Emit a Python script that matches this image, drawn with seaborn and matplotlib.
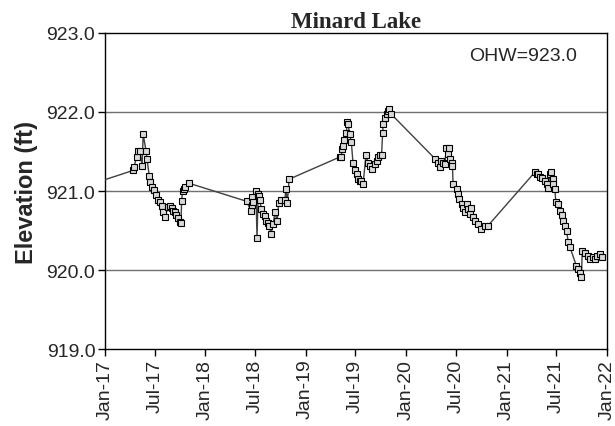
import pandas as pd
import matplotlib
matplotlib.use("Agg")
import matplotlib.pyplot as plt
import matplotlib.dates as mdates
import seaborn as sns

# lake level readings
dates = [
    "2016-11-15",
    "2017-04-13", "2017-04-17", "2017-04-26", "2017-05-02", "2017-05-08", "2017-05-16",
    "2017-05-20", "2017-05-30", "2017-06-03", "2017-06-11", "2017-06-15", "2017-06-20",
    "2017-06-28", "2017-07-06", "2017-07-13", "2017-07-20", "2017-07-26", "2017-08-01",
    "2017-08-07", "2017-08-19", "2017-08-25", "2017-08-31", "2017-09-06", "2017-09-12",
    "2017-09-18", "2017-09-24", "2017-09-30", "2017-10-04", "2017-10-07", "2017-10-10",
    "2017-10-15", "2017-10-20", "2017-11-01",
    "2018-05-31", "2018-06-16", "2018-06-18", "2018-06-21", "2018-06-24", "2018-07-04",
    "2018-07-08", "2018-07-12", "2018-07-16", "2018-07-18", "2018-07-24", "2018-07-30",
    "2018-08-05", "2018-08-11", "2018-08-17", "2018-08-21", "2018-08-28", "2018-09-05",
    "2018-09-11", "2018-09-19", "2018-09-25", "2018-10-05", "2018-10-17", "2018-10-21",
    "2018-10-26", "2018-11-02",
    "2019-05-05", "2019-05-10", "2019-05-14", "2019-05-18", "2019-05-21", "2019-05-29",
    "2019-06-01", "2019-06-04", "2019-06-10", "2019-06-16", "2019-06-22", "2019-06-28",
    "2019-07-05", "2019-07-10", "2019-07-17", "2019-07-23", "2019-07-29", "2019-08-08",
    "2019-08-16", "2019-08-22", "2019-09-01", "2019-09-10", "2019-09-16", "2019-09-22",
    "2019-09-28", "2019-10-04", "2019-10-08", "2019-10-10", "2019-10-16", "2019-10-22",
    "2019-10-28", "2019-11-01", "2019-11-09",
    "2020-04-15", "2020-04-27", "2020-05-03", "2020-05-09", "2020-05-15", "2020-05-21",
    "2020-05-27", "2020-06-02", "2020-06-06", "2020-06-08", "2020-06-15", "2020-06-18",
    "2020-06-20", "2020-07-03", "2020-07-09", "2020-07-12", "2020-07-21", "2020-07-27",
    "2020-08-02", "2020-08-08", "2020-08-14", "2020-08-20", "2020-08-26", "2020-09-01",
    "2020-09-07", "2020-09-19", "2020-10-01", "2020-10-13", "2020-10-25",
    "2021-04-14", "2021-04-20", "2021-04-26", "2021-05-02", "2021-05-08", "2021-05-20",
    "2021-05-26", "2021-06-01", "2021-06-07", "2021-06-13", "2021-06-17", "2021-06-19",
    "2021-06-25", "2021-06-29", "2021-07-07", "2021-07-13", "2021-07-20", "2021-07-25",
    "2021-08-01", "2021-08-07", "2021-08-13", "2021-08-19", "2021-09-12", "2021-09-17",
    "2021-09-24", "2021-09-30", "2021-10-03", "2021-10-12", "2021-10-24", "2021-10-31",
    "2021-11-12", "2021-11-18", "2021-11-24", "2021-12-06", "2021-12-12",
]
elev = [
    921.09,
    921.26, 921.31, 921.43, 921.51, 921.50, 921.32,
    921.72, 921.51, 921.40, 921.19, 921.12, 921.05,
    921.01, 920.95, 920.89, 920.86, 920.81, 920.74,
    920.67, 920.80, 920.81, 920.79, 920.75, 920.73,
    920.69, 920.66, 920.61, 920.59, 920.87, 921.00,
    921.02, 921.05, 921.10,
    920.87, 920.75, 920.82, 920.92, 920.86, 921.00,
    920.40, 920.96, 920.94, 920.88, 920.77, 920.71,
    920.68, 920.62, 920.60, 920.56, 920.46, 920.58,
    920.73, 920.62, 920.85, 920.89, 920.88, 921.03,
    920.85, 921.15,
    921.43, 921.43, 921.53, 921.57, 921.64, 921.74,
    921.87, 921.85, 921.72, 921.62, 921.36, 921.26,
    921.22, 921.15, 921.13, 921.13, 921.09, 921.45,
    921.36, 921.32, 921.28, 921.34, 921.38, 921.43,
    921.45, 921.46, 921.74, 921.85, 921.93, 921.97,
    922.01, 922.04, 921.97,
    921.41, 921.36, 921.30, 921.38, 921.36, 921.34,
    921.55, 921.47, 921.55, 921.41, 921.36, 921.32,
    921.09, 921.03, 920.96, 920.90, 920.84, 920.79,
    920.73, 920.84, 920.77, 920.71, 920.79, 920.67,
    920.62, 920.58, 920.52, 920.56, 920.56,
    921.24, 921.22, 921.22, 921.18, 921.17, 921.13,
    921.09, 921.04, 921.22, 921.24, 921.15, 921.09,
    921.03, 920.86, 920.84, 920.75, 920.69, 920.62,
    920.56, 920.50, 920.35, 920.29, 920.05, 920.01,
    919.96, 919.91, 920.24, 920.22, 920.18, 920.14,
    920.16, 920.14, 920.18, 920.20, 920.16,
]

y_ticks = [919.0, 920.0, 921.0, 922.0, 923.0]
ohw = 923.0

df = pd.DataFrame({"Date": pd.to_datetime(dates), "Elevation": elev})

sns.set_style("white")
plt.rcParams['font.family'] = ['Liberation Sans', 'DejaVu Sans']

fig = plt.figure(figsize=(6.15, 4.27), dpi=100)
ax = fig.add_axes([0.1707, 0.1803, 0.8163, 0.7401])

for yv in y_ticks[1:-1]:
    ax.axhline(yv, color='#707070', linewidth=1.0, zorder=1)

sns.lineplot(data=df, x="Date", y="Elevation", ax=ax, color='#404040', linewidth=1.0,
             marker='s', markersize=4.3, markerfacecolor='#d8d8d8',
             markeredgecolor='black', markeredgewidth=0.8, zorder=3)

ax.set_xlim(pd.Timestamp("2017-01-01"), pd.Timestamp("2022-01-01"))
ax.set_ylim(y_ticks[0], y_ticks[-1])
ax.set_yticks(y_ticks)
ax.set_yticklabels([f"{v:.1f}" for v in y_ticks])
ax.xaxis.set_major_locator(mdates.MonthLocator(bymonth=[1, 7]))
ax.xaxis.set_major_formatter(mdates.DateFormatter('%b-%y'))
ax.tick_params(axis='x', labelrotation=90)
ax.tick_params(axis='both', labelsize=14, direction='out', length=5, width=1,
               color='black', bottom=True, left=True, pad=2)

for sp in ax.spines.values():
    sp.set_color('black')
    sp.set_linewidth(1.0)

ax.set_xlabel("")
ax.set_ylabel("Elevation (ft)", fontsize=17, fontweight='bold', labelpad=6)
ax.set_title("Minard Lake", fontsize=16.5, fontweight='bold',
             family=['Liberation Serif', 'DejaVu Serif'], pad=4)
ax.text(0.94, 0.955, f"OHW={ohw:.1f}", transform=ax.transAxes, ha='right', va='top',
        fontsize=14)

fig.savefig("out.png", dpi=100)
